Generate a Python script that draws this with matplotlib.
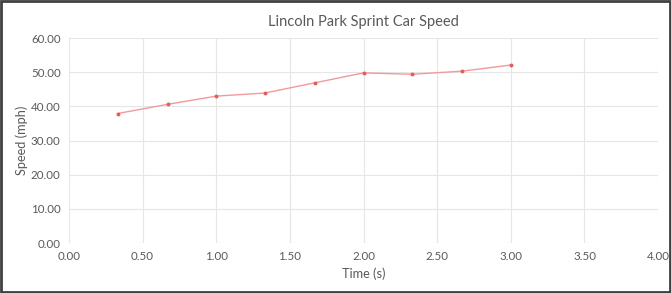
import matplotlib
matplotlib.use("Agg")
from matplotlib import pyplot as plt
from matplotlib.patches import Rectangle

# data
time_s = [0.33, 0.67, 1.00, 1.33, 1.67, 2.00, 2.33, 2.67, 3.00]
speed_mph = [37.9, 40.6, 43.0, 43.9, 46.9, 49.8, 49.4, 50.3, 52.1]
x_ticks = [0.0, 0.5, 1.0, 1.5, 2.0, 2.5, 3.0, 3.5, 4.0]
y_ticks = [0, 10, 20, 30, 40, 50, 60]

TXT = '#595959'
GRID = '#e6e6e6'
plt.rcParams['font.family'] = ['Lato', 'DejaVu Sans']

fig = plt.figure(figsize=(6.71, 2.93), dpi=100)
ax = fig.add_axes([0.1028, 0.1706, 0.878, 0.6996])

ax.plot(time_s, speed_mph, '-', color='#f29a9a', linewidth=1.0,
        marker='o', markersize=1.8, markerfacecolor='#e85a5a',
        markeredgecolor='#e85a5a')

ax.set_xlim(0, 4)
ax.set_ylim(0, 60)
ax.set_xticks(x_ticks)
ax.set_yticks(y_ticks)
ax.set_xticklabels([f'{v:.2f}' for v in x_ticks])
ax.set_yticklabels([f'{v:.2f}' for v in y_ticks])
ax.grid(True, color=GRID, linewidth=0.8)
ax.set_axisbelow(True)
for s in ax.spines.values():
    s.set_visible(False)
ax.tick_params(length=0, labelsize=8.3, colors=TXT, pad=6)

ax.set_xlabel('Time (s)', fontsize=9.2, color=TXT, labelpad=4)
ax.set_ylabel('Speed (mph)', fontsize=9.2, color=TXT, labelpad=2)
ax.set_title('Lincoln Park Sprint Car Speed', fontsize=10.5, color=TXT, pad=9)

# dark border around the whole picture
fig.patches.append(Rectangle((0.002, 0.004), 0.996, 0.992, transform=fig.transFigure,
                             fill=False, edgecolor='#404040', linewidth=2))

fig.savefig('out.png', dpi=100)
